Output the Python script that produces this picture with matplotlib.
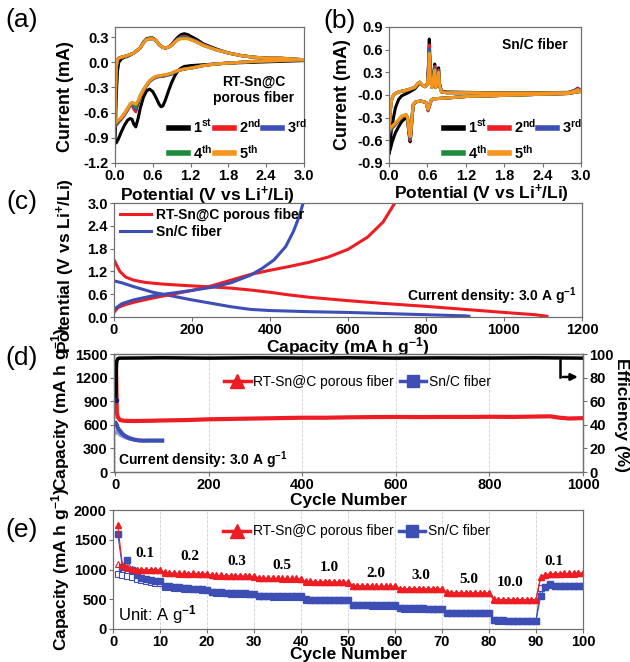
import numpy as np
import matplotlib
matplotlib.use('Agg')
import matplotlib.pyplot as plt
from matplotlib.lines import Line2D
from matplotlib.ticker import FormatStrFormatter

plt.rcParams['font.family'] = ['Liberation Sans', 'DejaVu Sans']
plt.rcParams['font.weight'] = 'bold'
plt.rcParams['axes.labelweight'] = 'bold'
plt.rcParams['axes.unicode_minus'] = False
plt.rcParams['mathtext.fontset'] = 'custom'
plt.rcParams['mathtext.rm'] = 'Liberation Sans:bold'
plt.rcParams['mathtext.bf'] = 'Liberation Sans:bold'
plt.rcParams['mathtext.it'] = 'Liberation Sans:bold'
plt.rcParams['mathtext.default'] = 'rm'

BLACK = '#000000'
RED = '#ee1d23'
BLUE = '#3d4fb5'
GREEN = '#1e8b3c'
ORANGE = '#f7941d'
CYCLE_COLORS = [BLACK, RED, BLUE, GREEN, ORANGE]
CYCLE_LABELS = ['1$^{st}$', '2$^{nd}$', '3$^{rd}$', '4$^{th}$', '5$^{th}$']

# ---------------- (a) RT-Sn@C porous fiber CV ----------------
a_v_up = [0.0, 0.01, 0.02, 0.04, 0.06, 0.1, 0.15, 0.2, 0.3, 0.4, 0.45, 0.5, 0.55, 0.6, 0.65, 0.7, 0.75, 0.8,
          0.85, 0.9, 0.95, 1.0, 1.05, 1.1, 1.15, 1.2, 1.3, 1.4, 1.6, 1.8, 2.0, 2.2, 2.4, 2.6, 2.8, 3.0]
a_up1 = [-0.95, -0.7, -0.4, -0.1, 0.0, 0.04, 0.06, 0.07, 0.11, 0.17, 0.24, 0.28, 0.29, 0.29, 0.26, 0.21, 0.18, 0.17,
         0.18, 0.21, 0.26, 0.30, 0.33, 0.34, 0.33, 0.31, 0.27, 0.22, 0.16, 0.11, 0.08, 0.06, 0.05, 0.04, 0.03, 0.02]
a_up2 = [-0.76, -0.35, -0.06, 0.03, 0.05, 0.06, 0.07, 0.08, 0.11, 0.17, 0.23, 0.27, 0.28, 0.28, 0.26, 0.21, 0.18, 0.17,
         0.18, 0.21, 0.25, 0.28, 0.30, 0.31, 0.30, 0.28, 0.25, 0.21, 0.15, 0.11, 0.08, 0.06, 0.05, 0.05, 0.04, 0.03]
a_up3 = [-0.75, -0.33, -0.06, 0.03, 0.05, 0.06, 0.07, 0.08, 0.11, 0.17, 0.23, 0.27, 0.28, 0.28, 0.26, 0.21, 0.18, 0.17,
         0.18, 0.20, 0.24, 0.28, 0.30, 0.30, 0.29, 0.28, 0.25, 0.21, 0.15, 0.11, 0.08, 0.06, 0.05, 0.05, 0.04, 0.03]
a_up4 = [-0.74, -0.32, -0.05, 0.03, 0.05, 0.06, 0.07, 0.08, 0.11, 0.17, 0.23, 0.27, 0.28, 0.28, 0.26, 0.21, 0.18, 0.17,
         0.18, 0.20, 0.24, 0.27, 0.29, 0.29, 0.29, 0.27, 0.24, 0.20, 0.15, 0.11, 0.08, 0.06, 0.05, 0.05, 0.04, 0.03]
a_up5 = [-0.72, -0.30, -0.05, 0.03, 0.05, 0.06, 0.07, 0.08, 0.11, 0.17, 0.23, 0.27, 0.28, 0.28, 0.26, 0.21, 0.18, 0.17,
         0.18, 0.20, 0.24, 0.27, 0.28, 0.28, 0.28, 0.27, 0.24, 0.20, 0.15, 0.11, 0.08, 0.06, 0.05, 0.05, 0.04, 0.03]
a_v_dn = [3.0, 2.6, 2.2, 1.8, 1.6, 1.4, 1.2, 1.1, 1.05, 1.0, 0.95, 0.9, 0.85, 0.8, 0.76, 0.73, 0.7, 0.65, 0.6, 0.55,
          0.5, 0.45, 0.4, 0.37, 0.33, 0.3, 0.27, 0.24, 0.2, 0.15, 0.1, 0.05, 0.02, 0.0]
a_dn1 = [0.02, 0.01, 0.0, -0.01, -0.02, -0.03, -0.04, -0.05, -0.07, -0.10, -0.16, -0.24, -0.34, -0.45, -0.52, -0.53,
         -0.50, -0.42, -0.35, -0.32, -0.34, -0.42, -0.55, -0.66, -0.77, -0.74, -0.68, -0.67, -0.69, -0.75, -0.83,
         -0.92, -0.96, -0.95]
a_dn2 = [0.03, 0.02, 0.01, -0.01, -0.02, -0.04, -0.07, -0.08, -0.09, -0.10, -0.12, -0.14, -0.15, -0.16, -0.17, -0.17,
         -0.17, -0.18, -0.20, -0.23, -0.28, -0.34, -0.42, -0.49, -0.59, -0.56, -0.50, -0.52, -0.57, -0.63, -0.68,
         -0.72, -0.75, -0.76]
a_dn3 = [0.03, 0.02, 0.01, -0.01, -0.02, -0.04, -0.07, -0.08, -0.09, -0.10, -0.12, -0.14, -0.15, -0.16, -0.16, -0.17,
         -0.17, -0.18, -0.20, -0.23, -0.28, -0.34, -0.41, -0.47, -0.56, -0.53, -0.49, -0.51, -0.56, -0.62, -0.67,
         -0.71, -0.74, -0.75]
a_dn4 = [0.03, 0.02, 0.01, -0.01, -0.02, -0.04, -0.07, -0.08, -0.09, -0.10, -0.11, -0.13, -0.14, -0.15, -0.16, -0.16,
         -0.16, -0.17, -0.19, -0.22, -0.27, -0.33, -0.40, -0.46, -0.54, -0.51, -0.48, -0.50, -0.55, -0.61, -0.66,
         -0.70, -0.73, -0.74]
a_dn5 = [0.03, 0.02, 0.01, -0.01, -0.02, -0.04, -0.07, -0.08, -0.09, -0.10, -0.11, -0.13, -0.14, -0.15, -0.15, -0.16,
         -0.16, -0.17, -0.19, -0.22, -0.27, -0.33, -0.40, -0.45, -0.50, -0.49, -0.48, -0.50, -0.55, -0.61, -0.66,
         -0.69, -0.71, -0.72]

# ---------------- (b) Sn/C fiber CV ----------------
b_v_up = [0.0, 0.02, 0.04, 0.07, 0.1, 0.15, 0.2, 0.3, 0.4, 0.45, 0.48, 0.52, 0.56, 0.6, 0.62, 0.63, 0.645, 0.67, 0.7,
          0.715, 0.73, 0.76, 0.775, 0.79, 0.82, 0.9, 1.2, 1.6, 2.0, 2.4, 2.8, 2.9, 2.95, 3.0]
b_up1 = [-0.77, -0.60, -0.45, -0.30, -0.17, -0.06, -0.01, 0.03, 0.08, 0.13, 0.16, 0.13, 0.11, 0.15, 0.45, 0.74, 0.30,
         0.10, 0.30, 0.41, 0.10, 0.20, 0.36, 0.15, 0.05, 0.04, 0.035, 0.03, 0.03, 0.03, 0.035, 0.06, 0.09, 0.05]
b_up2 = [-0.50, -0.22, -0.07, 0.0, 0.02, 0.04, 0.05, 0.07, 0.10, 0.15, 0.17, 0.13, 0.11, 0.14, 0.40, 0.66, 0.25,
         0.10, 0.28, 0.38, 0.10, 0.19, 0.33, 0.13, 0.04, 0.03, 0.03, 0.025, 0.025, 0.025, 0.03, 0.06, 0.09, 0.05]
b_up3 = [-0.48, -0.21, -0.07, 0.0, 0.02, 0.04, 0.05, 0.07, 0.10, 0.15, 0.17, 0.13, 0.11, 0.14, 0.35, 0.61, 0.22,
         0.10, 0.27, 0.36, 0.10, 0.18, 0.31, 0.12, 0.04, 0.03, 0.03, 0.025, 0.025, 0.025, 0.03, 0.06, 0.08, 0.05]
b_up4 = [-0.46, -0.20, -0.06, 0.0, 0.02, 0.04, 0.05, 0.07, 0.10, 0.15, 0.17, 0.13, 0.11, 0.14, 0.32, 0.57, 0.21,
         0.10, 0.26, 0.34, 0.10, 0.18, 0.30, 0.12, 0.04, 0.03, 0.03, 0.025, 0.025, 0.025, 0.03, 0.05, 0.07, 0.04]
b_up5 = [-0.45, -0.20, -0.06, 0.0, 0.02, 0.04, 0.05, 0.07, 0.10, 0.15, 0.17, 0.13, 0.11, 0.14, 0.30, 0.55, 0.20,
         0.10, 0.25, 0.33, 0.10, 0.18, 0.30, 0.12, 0.04, 0.03, 0.03, 0.025, 0.025, 0.025, 0.03, 0.05, 0.07, 0.04]
b_v_dn = [3.0, 2.8, 2.4, 2.0, 1.6, 1.2, 0.9, 0.7, 0.66, 0.63, 0.61, 0.58, 0.5, 0.42, 0.38, 0.36, 0.345, 0.33, 0.31,
          0.29, 0.27, 0.2, 0.15, 0.1, 0.05, 0.02, 0.0]
b_dn1 = [0.05, 0.02, 0.01, 0.0, -0.01, -0.02, -0.04, -0.05, -0.07, -0.15, -0.20, -0.10, -0.08, -0.09, -0.13, -0.30,
         -0.50, -0.62, -0.50, -0.32, -0.30, -0.35, -0.42, -0.50, -0.62, -0.72, -0.77]
b_dn2 = [0.05, 0.02, 0.01, 0.0, -0.01, -0.02, -0.04, -0.05, -0.07, -0.15, -0.21, -0.10, -0.08, -0.09, -0.13, -0.30,
         -0.50, -0.60, -0.48, -0.31, -0.27, -0.29, -0.34, -0.39, -0.44, -0.48, -0.50]
b_dn3 = [0.05, 0.02, 0.01, 0.0, -0.01, -0.02, -0.04, -0.05, -0.07, -0.15, -0.20, -0.10, -0.08, -0.09, -0.13, -0.29,
         -0.48, -0.58, -0.47, -0.30, -0.27, -0.29, -0.34, -0.38, -0.43, -0.47, -0.49]
b_dn4 = [0.05, 0.02, 0.01, 0.0, -0.01, -0.02, -0.04, -0.05, -0.07, -0.14, -0.19, -0.10, -0.08, -0.09, -0.12, -0.28,
         -0.46, -0.56, -0.46, -0.30, -0.26, -0.28, -0.33, -0.38, -0.42, -0.45, -0.47]
b_dn5 = [0.05, 0.02, 0.01, 0.0, -0.01, -0.02, -0.04, -0.05, -0.07, -0.14, -0.19, -0.10, -0.08, -0.09, -0.12, -0.28,
         -0.45, -0.55, -0.45, -0.30, -0.26, -0.28, -0.33, -0.37, -0.41, -0.44, -0.45]

# ---------------- (c) charge/discharge profiles ----------------
c_rt_dis_cap = [0, 5, 15, 30, 50, 80, 120, 180, 250, 300, 350, 400, 450, 500, 600, 700, 800, 900, 1000, 1080, 1110]
c_rt_dis_v = [1.5, 1.4, 1.2, 1.05, 0.97, 0.91, 0.87, 0.83, 0.79, 0.76, 0.71, 0.65, 0.58, 0.52, 0.43, 0.35, 0.28,
              0.2, 0.12, 0.06, 0.02]
c_rt_chg_cap = [0, 10, 30, 60, 100, 150, 200, 250, 300, 350, 400, 450, 500, 550, 600, 650, 690, 720]
c_rt_chg_v = [0.12, 0.25, 0.33, 0.41, 0.5, 0.6, 0.7, 0.82, 0.97, 1.12, 1.23, 1.33, 1.44, 1.58, 1.78, 2.1, 2.5, 3.0]
c_sn_dis_cap = [0, 20, 50, 100, 150, 200, 250, 300, 350, 400, 500, 600, 700, 800, 900, 910]
c_sn_dis_v = [0.95, 0.9, 0.8, 0.65, 0.55, 0.45, 0.36, 0.27, 0.2, 0.17, 0.14, 0.12, 0.09, 0.06, 0.03, 0.02]
c_sn_chg_cap = [0, 20, 50, 100, 150, 200, 250, 300, 350, 380, 410, 440, 460, 475, 485]
c_sn_chg_v = [0.2, 0.35, 0.45, 0.56, 0.63, 0.7, 0.78, 0.9, 1.1, 1.28, 1.5, 1.85, 2.25, 2.65, 3.0]

# ---------------- (d) long cycling at 3.0 A/g ----------------
d_rt_cycle = [1, 2, 3, 5, 10, 20, 40, 60, 80, 100, 150, 200, 250, 300, 350, 400, 450, 500, 550, 600, 650, 700,
              750, 800, 850, 900, 930, 950, 970, 1000]
d_rt_cap = [1400, 1110, 760, 700, 660, 650, 648, 650, 652, 655, 660, 670, 675, 680, 685, 690, 690, 695, 698, 700,
            698, 700, 700, 702, 700, 705, 708, 690, 680, 685]
d_sn_cycle = [1, 3, 5, 10, 15, 20, 30, 40, 50, 60, 70, 80, 90, 100]
d_sn_cap = [620, 600, 560, 520, 485, 460, 430, 412, 402, 398, 400, 400, 400, 400]
d_sn_chg_cycle = [1, 3, 5, 10, 20, 30, 50, 100]
d_sn_chg_cap = [500, 520, 500, 470, 440, 420, 400, 395]
d_eff_cycle = [1, 2, 3, 5, 8, 50, 100, 200, 300, 400, 500, 600, 700, 800, 900, 1000]
d_eff = [61, 88, 94, 96, 96.5, 96.6, 96.8, 96.5, 96.8, 96.6, 96.8, 96.5, 96.7, 96.6, 96.8, 96.5]

# ---------------- (e) rate capability ----------------
e_rt_dis = [1750, 1080, 1050, 1010, 1000, 1000, 995, 1000, 995, 990,
            950, 940, 940, 935, 935, 930, 935, 930, 930, 925,
            905, 900, 900, 895, 895, 890, 895, 890, 890, 885,
            860, 860, 855, 855, 855, 850, 850, 850, 850, 845,
            800, 800, 795, 795, 795, 790, 790, 790, 790, 785,
            730, 725, 725, 725, 720, 720, 720, 720, 720, 720,
            680, 680, 678, 678, 678, 675, 675, 675, 675, 675,
            615, 612, 610, 610, 610, 608, 608, 608, 608, 605,
            500, 495, 495, 495, 495, 495, 495, 495, 495, 495,
            880, 915, 925, 930, 930, 935, 935, 935, 940, 940]
e_rt_chg = [1100, 1060, 1030, 1005, 995, 995, 990, 995, 990, 985,
            945, 935, 935, 930, 930, 925, 930, 925, 925, 920,
            900, 895, 895, 890, 890, 885, 890, 885, 885, 880,
            855, 855, 850, 850, 850, 845, 845, 845, 845, 840,
            795, 795, 790, 790, 790, 785, 785, 785, 785, 780,
            725, 720, 720, 720, 715, 715, 715, 715, 715, 715,
            675, 675, 673, 673, 673, 670, 670, 670, 670, 670,
            610, 607, 605, 605, 605, 603, 603, 603, 603, 600,
            495, 490, 490, 490, 490, 490, 490, 490, 490, 490,
            870, 910, 920, 925, 925, 930, 930, 930, 935, 935]
e_sn_dis = [1600, 1040, 1160, 1000, 900, 860, 840, 820, 810, 800,
            730, 715, 705, 700, 690, 685, 680, 675, 670, 660,
            625, 620, 615, 610, 600, 600, 598, 598, 595, 595,
            560, 555, 555, 552, 550, 550, 550, 548, 548, 548,
            500, 495, 490, 490, 488, 488, 485, 485, 485, 485,
            410, 405, 400, 400, 398, 398, 395, 395, 395, 395,
            350, 348, 345, 345, 345, 345, 342, 342, 342, 342,
            275, 272, 270, 270, 270, 270, 268, 268, 268, 268,
            150, 145, 143, 142, 140, 140, 140, 140, 140, 140,
            560, 700, 760, 725, 720, 720, 720, 720, 720, 720]
e_sn_chg = [930, 915, 895, 870, 840, 820, 805, 790, 780, 770,
            710, 700, 695, 690, 680, 675, 670, 665, 660, 655,
            615, 610, 605, 600, 595, 592, 590, 590, 588, 588,
            552, 548, 548, 545, 545, 545, 543, 543, 543, 543,
            492, 488, 485, 485, 483, 483, 480, 480, 480, 480,
            402, 398, 395, 395, 393, 393, 390, 390, 390, 390,
            345, 343, 340, 340, 340, 340, 338, 338, 338, 338,
            270, 268, 265, 265, 265, 265, 263, 263, 263, 263,
            145, 140, 138, 138, 136, 136, 136, 136, 136, 136,
            690, 700, 740, 720, 715, 715, 715, 715, 715, 715]
e_rate_labels = ['0.1', '0.2', '0.3', '0.5', '1.0', '2.0', '3.0', '5.0', '10.0', '0.1']
e_rate_x = [6.8, 16.4, 26.4, 36.0, 46.0, 56.0, 65.4, 75.6, 84.5, 93.9]
e_rate_y = [1275, 1217, 1142, 1072, 1032, 940, 900, 840, 783, 1130]

W, H = 630, 662
fig = plt.figure(figsize=(W / 100, H / 100), dpi=100)


def add_ax(l, t, r, b):
    return fig.add_axes([l / W, 1 - b / H, (r - l) / W, (b - t) / H])


def style(ax, labelsize=10.5):
    for s in ax.spines.values():
        s.set_color('#707070')
        s.set_linewidth(0.9)
    ax.tick_params(direction='out', length=3, width=0.8, color='#707070', labelsize=labelsize, pad=1.5)
    plt.setp(ax.get_xticklabels() + ax.get_yticklabels(), fontweight='bold')


def ftext(x, y, s, **kw):
    fig.text(x / W, 1 - y / H, s, **kw)


def cv_panel(ax, v_up, ups, v_dn, dns):
    for k in range(5):
        ax.plot(v_up + v_dn, ups[k] + dns[k], color=CYCLE_COLORS[k], lw=2.2, solid_joinstyle='round')
    hs = [Line2D([], [], color=c, lw=4) for c in CYCLE_COLORS]
    order = [0, 3, 1, 4, 2]
    ax.legend([hs[i] for i in order], [CYCLE_LABELS[i] for i in order], ncol=3, loc='lower left',
              bbox_to_anchor=(0.28, 0.0), frameon=False, prop={'size': 10.5, 'weight': 'bold'},
              handlelength=1.3, handletextpad=0.35, columnspacing=0.15, labelspacing=0.55,
              borderpad=0.1, borderaxespad=0)
    ax.set_xlim(0, 3.0)
    ax.set_xticks(np.arange(0, 3.01, 0.6))
    ax.xaxis.set_major_formatter(FormatStrFormatter('%.1f'))
    ax.yaxis.set_major_formatter(FormatStrFormatter('%.1f'))
    ax.set_xlabel('Potential (V vs Li$^{+}$/Li)', fontsize=12.5)
    ax.set_ylabel('Current (mA)', fontsize=13)


# (a)
ax_a = add_ax(115, 27, 304, 163)
cv_panel(ax_a, a_v_up, [a_up1, a_up2, a_up3, a_up4, a_up5], a_v_dn, [a_dn1, a_dn2, a_dn3, a_dn4, a_dn5])
ax_a.set_ylim(-1.2, 0.42)
ax_a.set_yticks(np.arange(-1.2, 0.31, 0.3))
ax_a.text(2.2, -0.33, 'RT-Sn@C\nporous fiber', ha='center', va='center', fontsize=10, linespacing=1.2)
ax_a.yaxis.set_label_coords(-0.215, 0.49)
ax_a.xaxis.set_label_coords(0.49, -0.16)
style(ax_a)

# (b)
ax_b = add_ax(389, 27, 581, 163)
cv_panel(ax_b, b_v_up, [b_up1, b_up2, b_up3, b_up4, b_up5], b_v_dn, [b_dn1, b_dn2, b_dn3, b_dn4, b_dn5])
ax_b.set_ylim(-0.9, 0.9)
ax_b.set_yticks(np.arange(-0.9, 0.91, 0.3))
ax_b.text(2.28, 0.66, 'Sn/C fiber', ha='center', va='center', fontsize=10)
ax_b.yaxis.set_label_coords(-0.2, 0.5)
ax_b.xaxis.set_label_coords(0.48, -0.145)
style(ax_b)

# (c)
ax_c = add_ax(114, 203, 582, 317)
ax_c.plot(c_rt_dis_cap, c_rt_dis_v, color=RED, lw=2.2, label='RT-Sn@C porous fiber')
ax_c.plot(c_sn_dis_cap, c_sn_dis_v, color=BLUE, lw=2.2, label='Sn/C fiber')
ax_c.plot(c_rt_chg_cap, c_rt_chg_v, color=RED, lw=2.2)
ax_c.plot(c_sn_chg_cap, c_sn_chg_v, color=BLUE, lw=2.2)
ax_c.set_xlim(0, 1200)
ax_c.set_ylim(0, 3.0)
ax_c.set_xticks(np.arange(0, 1201, 200))
ax_c.set_yticks(np.arange(0, 3.01, 0.6))
ax_c.yaxis.set_major_formatter(FormatStrFormatter('%.1f'))
ax_c.legend(loc='upper left', bbox_to_anchor=(0.01, 0.97), frameon=False, prop={'size': 10, 'weight': 'bold'},
            handlelength=2.2, handletextpad=0.4, labelspacing=0.25, borderpad=0.1, borderaxespad=0)
ax_c.text(1185, 0.55, 'Current density: 3.0 A g$^{-1}$', ha='right', va='center', fontsize=10)
ax_c.set_xlabel('Capacity (mA h g$^{-1}$)', fontsize=12.5)
ax_c.set_ylabel('Potential (V vs Li$^{+}$/Li)', fontsize=12.5)
ax_c.yaxis.set_label_coords(-0.08, 0.45)
ax_c.xaxis.set_label_coords(0.5, -0.16)
style(ax_c)

# (d)
ax_d = add_ax(114, 354, 583, 472)
ax_d.grid(axis='x', ls='--', color='#d0d0d0', lw=0.6)
ax_d.set_axisbelow(True)
ax_d.plot(d_sn_chg_cycle, d_sn_chg_cap, color='#8e9ad6', lw=2.5)
ax_d.plot(d_sn_cycle, d_sn_cap, color=BLUE, lw=3)
ax_d.plot(d_rt_cycle, d_rt_cap, color=RED, lw=3)
ax_d.set_xlim(-3, 1000)
ax_d.set_ylim(0, 1500)
ax_d.set_xticks(np.arange(0, 1001, 200))
ax_d.set_yticks(np.arange(0, 1501, 300))
ax_d2 = ax_d.twinx()
ax_d2.plot(d_eff_cycle, d_eff, color=BLACK, lw=2.5)
ax_d2.plot(d_eff_cycle[:1], d_eff[:1], 'o', color='#1a1a6e', ms=3)
ax_d2.set_ylim(0, 100)
ax_d2.set_yticks(np.arange(0, 101, 20))
style(ax_d)
style(ax_d2)
ax_d.annotate('', xy=(995, 1208), xytext=(951, 1208),
              arrowprops=dict(arrowstyle='-|>', color=BLACK, lw=1.8, mutation_scale=10))
ax_d.plot([951, 951], [1424, 1208], color=BLACK, lw=1.8)
hd = [Line2D([], [], color=RED, marker='^', ms=10, lw=2.5),
      Line2D([], [], color=BLUE, marker='s', ms=9, lw=2.5)]
ax_d.legend(hd, ['RT-Sn@C porous fiber', 'Sn/C fiber'], ncol=2, loc='center left', bbox_to_anchor=(0.235, 0.76),
            frameon=False, prop={'size': 10, 'weight': 'normal'}, handlelength=1.9, handletextpad=0.2,
            columnspacing=0.4, borderpad=0, borderaxespad=0)
ax_d.text(5, 150, 'Current density: 3.0 A g$^{-1}$', ha='left', va='center', fontsize=10)
ax_d.set_xlabel('Cycle Number', fontsize=12.5)
ax_d.set_ylabel('Capacity (mA h g$^{-1}$)', fontsize=12.5)
ax_d.yaxis.set_label_coords(-0.09, 0.53)
ax_d.xaxis.set_label_coords(0.5, -0.175)
ftext(622, 415, 'Efficiency (%)', rotation=270, ha='center', va='center', fontsize=12.5)

# (e)
ax_e = add_ax(113, 510, 583, 629)
ax_e.grid(axis='x', ls='--', color='#d0d0d0', lw=0.6)
ax_e.set_axisbelow(True)
cyc = np.arange(1, len(e_rt_dis) + 1)
ax_e.plot(cyc, e_sn_chg, color=BLUE, lw=0.8, marker='s', ms=4, mfc='white', mec=BLUE, mew=0.8)
ax_e.plot(cyc, e_rt_chg, color=RED, lw=0.8, marker='^', ms=4.5, mfc='white', mec=RED, mew=0.8)
ax_e.plot(cyc, e_sn_dis, color=BLUE, lw=0.8, marker='s', ms=4, mec=BLUE)
ax_e.plot(cyc, e_rt_dis, color=RED, lw=0.8, marker='^', ms=4.5, mec=RED)
for lab, x, y in zip(e_rate_labels, e_rate_x, e_rate_y):
    ax_e.text(x, y, lab, ha='center', va='center', fontsize=11, family='Liberation Serif', weight='bold')
ax_e.set_xlim(0, 100)
ax_e.set_ylim(0, 2000)
ax_e.set_xticks(np.arange(0, 101, 10))
ax_e.set_yticks(np.arange(0, 2001, 500))
ax_e.legend(hd, ['RT-Sn@C porous fiber', 'Sn/C fiber'], ncol=2, loc='center left', bbox_to_anchor=(0.235, 0.82),
            frameon=False, prop={'size': 10, 'weight': 'normal'}, handlelength=1.9, handletextpad=0.2,
            columnspacing=0.4, borderpad=0, borderaxespad=0)
ax_e.text(1, 235, 'Unit: A g$^{-1}$', ha='left', va='center', fontsize=12, weight='normal')
ax_e.set_xlabel('Cycle Number', fontsize=12.5)
ax_e.set_ylabel('Capacity (mA h g$^{-1}$)', fontsize=12.5)
ax_e.yaxis.set_label_coords(-0.088, 0.5)
ax_e.xaxis.set_label_coords(0.5, -0.155)
style(ax_e)

# panel letters
for s, x, y in [('(a)', 22, 20), ('(b)', 340, 21), ('(c)', 22, 202), ('(d)', 22, 358), ('(e)', 22, 530)]:
    ftext(x, y, s, ha='center', va='center', fontsize=19, weight='normal')

fig.savefig('out.png', dpi=100)
